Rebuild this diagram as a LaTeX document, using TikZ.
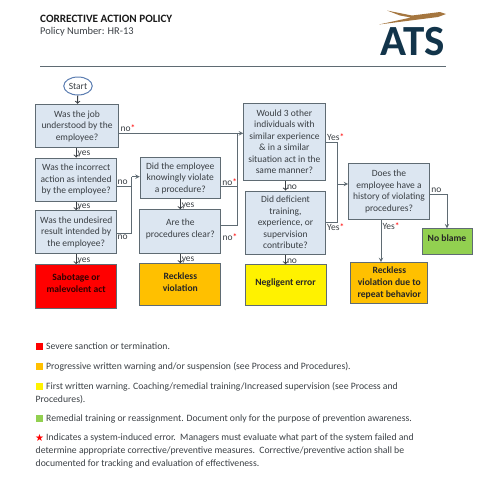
\documentclass[tikz,border=0pt]{standalone}
\usepackage{fontspec}
\setmainfont{Carlito}
\newfontfamily\symfont{DejaVu Sans}
\usepackage{xcolor}
\usetikzlibrary{shapes,arrows,positioning,calc}
\definecolor{inkgray}{HTML}{3A3F44}
\definecolor{edgegray}{HTML}{5F6B73}
\definecolor{qfill}{HTML}{DCE6F1}
\definecolor{navy}{HTML}{12344A}
\definecolor{wing}{HTML}{A5763F}
\definecolor{amber}{HTML}{FFC000}
\definecolor{leaf}{HTML}{92D050}
\definecolor{startblue}{HTML}{5B7DB1}
\newcommand{\rstar}{\textcolor{red}{*}}

\begin{document}
\begin{tikzpicture}[
    x=1pt, y=-1pt,
    every node/.style={text=inkgray},
    qbox/.style={rectangle, draw=edgegray, line width=1pt, fill=qfill, inner sep=0pt, align=center, minimum width=81pt, font=\fontsize{9.5}{11.5}\selectfont},
    outcome/.style={rectangle, draw=edgegray, line width=1pt, inner sep=0pt, align=center, minimum width=81pt, text=black!85, font=\bfseries\fontsize{9.6}{12}\selectfont},
    stub/.style={->, >=to, line width=1pt, draw=inkgray},
    link/.style={line width=1pt, draw=edgegray},
    arrow/.style={->, >=stealth, line width=1pt, draw=edgegray},
    lbl/.style={inner sep=1pt, font=\fontsize{9.5}{10}\selectfont},
    steplbl/.style={lbl, midway, right, yshift=-1.5pt},
    legtext/.style={anchor=north west, inner sep=0pt, align=left, font=\fontsize{9.7}{12.8}\selectfont},
    legsq/.style={rectangle, inner sep=0pt, minimum size=7pt}]
  \useasboundingbox (0,0) rectangle (496,480);

  % header
  \node[anchor=west, inner sep=0pt, font=\bfseries\fontsize{11.2}{12}\selectfont, text=black!90] (title) at (40,18.5) {CORRECTIVE ACTION POLICY};
  \node[anchor=west, inner sep=0pt, font=\fontsize{10.4}{12}\selectfont] (polnum) at (40,31.5) {Policy Number: HR-13};
  \coordinate (ruleL) at (40,66);
  \coordinate (ruleR) at (446,66);
  \draw[line width=0.7pt, draw=edgegray] (ruleL) -- (ruleR);
  \fill[wing] (387,10.5) -- (412,15.5) -- (440,12) -- (446,14) -- (438,17) -- (379,24.5) -- (411,17.5) -- (400,15.5) -- cycle;
  \node[inner sep=0pt, font=\bfseries\fontsize{43}{43}\selectfont, text=navy] (logo) at (413,42) {ATS};

  % first column
  \node[ellipse, draw=startblue, line width=1pt, inner sep=0pt, minimum width=28.5pt, minimum height=18pt, font=\fontsize{9.5}{11}\selectfont] (start) at (78,86) {Start};
  \node[qbox, minimum width=83.4pt, minimum height=43.4pt] (job) at (77,126) {Was the job\\understood by the\\employee?};
  \node[qbox, minimum height=43pt, below=9.3pt of job, xshift=-0.8pt] (incorrect) {Was the incorrect\\action as intended\\by the employee?};
  \node[qbox, minimum height=43pt, below=8.7pt of incorrect] (undesired) {Was the undesired\\result intended by\\the employee?};
  \node[outcome, fill=red, minimum height=44pt, below=10pt of undesired, text=black!80!red, text depth=7pt] (sabotage) {Sabotage or\\malevolent act};

  % second column
  \node[qbox, minimum width=80pt, minimum height=40.6pt] (knowing) at (180.3,178) {Did the employee\\knowingly violate\\a procedure?};
  \node[qbox, minimum width=80.7pt, minimum height=43.3pt, below=10.4pt of knowing, text depth=6pt] (clear) {Are the\\procedures clear?};
  \node[outcome, fill=amber, minimum height=42pt, below=9.7pt of clear, text depth=6pt] (reckless) {Reckless\\violation};

  % third column
  \node[qbox, minimum width=81.3pt, minimum height=76.3pt] (others) at (284.4,141.9) {Would 3 other\\individuals with\\similar experience\\\& in a similar\\situation act in the\\same manner?};
  \node[qbox, minimum width=80.4pt, minimum height=63pt, below=10pt of others, xshift=1.1pt] (deficient) {Did deficient\\training,\\experience, or\\supervision\\contribute?};
  \node[outcome, fill=yellow, minimum height=41pt, below=9.7pt of deficient, text depth=6pt] (negligent) {Negligent error};

  % last column
  \node[qbox, minimum width=80.6pt, minimum height=55.6pt] (history) at (389,191.5) {Does the\\employee have a\\history of violating\\procedures?};
  \node[outcome, fill=amber, minimum width=76.7pt, minimum height=41pt] (repeat) at (389.3,283.2) {Reckless\\violation due to\\repeat behavior};
  \node[outcome, fill=leaf, minimum width=50pt, minimum height=25.7pt, text depth=7pt] (noblame) at (447,241.8) {No blame};

  % short steps
  \draw[stub] (start) -- (job);
  \draw[stub] (job.south -| incorrect) -- (incorrect) node[steplbl]{yes};
  \draw[stub] (incorrect) -- (undesired) node[steplbl]{yes};
  \draw[stub] (undesired) -- (sabotage) node[steplbl]{yes};
  \draw[stub] (knowing) -- (clear) node[steplbl]{yes};
  \draw[stub] (clear) -- (reckless) node[steplbl]{yes};
  \draw[stub] (others.south -| deficient) -- (deficient) node[steplbl]{no};
  \draw[stub] (deficient) -- (negligent) node[steplbl]{no};

  % elbows into knowing
  \coordinate (joinA) at (131.7,176.7);
  \draw[link] ([yshift=-6.5pt]incorrect.east) -| (joinA) node[pos=0, above right, lbl, xshift=-1pt]{no};
  \draw[link] ([yshift=-1.5pt]undesired.east) -| (joinA) node[pos=0, below right, lbl, xshift=-1pt]{no};
  \draw[arrow] (joinA) -- (joinA -| knowing.west);

  % elbows into others
  \coordinate (joinB) at (237.3,133.3);
  \draw[arrow] ([yshift=-7.3pt]job.east) -- (joinB -| others.west) node[pos=0, above right, lbl]{no\rstar};
  \draw[link] ([yshift=-8.7pt]knowing.east) -| (joinB) node[pos=0, above right, lbl]{no\rstar};
  \draw[link] ([yshift=6.3pt]clear.east) -| (joinB) node[pos=0, below right, lbl, yshift=-7pt]{no\rstar};

  % elbows into history
  \coordinate (joinC) at (337.3,184);
  \draw[link] ([yshift=-0.4pt]others.east) -- +(12.3pt,0) coordinate (cornerC) -- (cornerC |- deficient.east) -- (deficient.east);
  \node[lbl, anchor=west] (othersyes) at (326,136.7) {Yes\rstar};
  \node[lbl, anchor=west] (deficientyes) at (326,226.7) {Yes\rstar};
  \draw[arrow] (joinC) -- (joinC -| history.west);

  % out of history
  \draw[arrow] ([yshift=-2.8pt]history.east) -| (noblame.north) node[pos=0, above right, lbl]{no};
  \draw[arrow] (history.south -| 381,0) -- (repeat.north -| 381,0) node[pos=0.15, right, lbl]{Yes\rstar};

  % legend
  \node[legtext] (legA) at (35.5,342.5) {\hspace*{10.5pt}Severe sanction or termination.};
  \node[legtext] (legB) at (35.5,362.5) {\hspace*{10.5pt}Progressive written warning and/or suspension (see Process and Procedures).};
  \node[legtext] (legC) at (35.5,382) {\hspace*{10.5pt}First written warning. Coaching/remedial training/Increased supervision (see Process and\\Procedures).};
  \node[legtext] (legD) at (35.5,414.5) {\hspace*{10.5pt}Remedial training or reassignment. Document only for the purpose of prevention awareness.};
  \node[legtext] (legE) at (35.5,433.5) {\hspace*{10.5pt}Indicates a system-induced error.\ \ Managers must evaluate what part of the system failed and\\determine appropriate corrective/preventive measures.\ \ Corrective/preventive action shall be\\documented for tracking and evaluation of effectiveness.};
  \node[legsq, fill=red] (sqA) at (39.5,346) {};
  \node[legsq, fill=amber] (sqB) at (39.5,366) {};
  \node[legsq, fill=yellow] (sqC) at (39.5,386) {};
  \node[legsq, fill=leaf] (sqD) at (39.5,418) {};
  \node[inner sep=0pt, text=red, font=\symfont\fontsize{10}{10}\selectfont] (legstar) at (39.5,437.5) {★};
\end{tikzpicture}
\end{document}
